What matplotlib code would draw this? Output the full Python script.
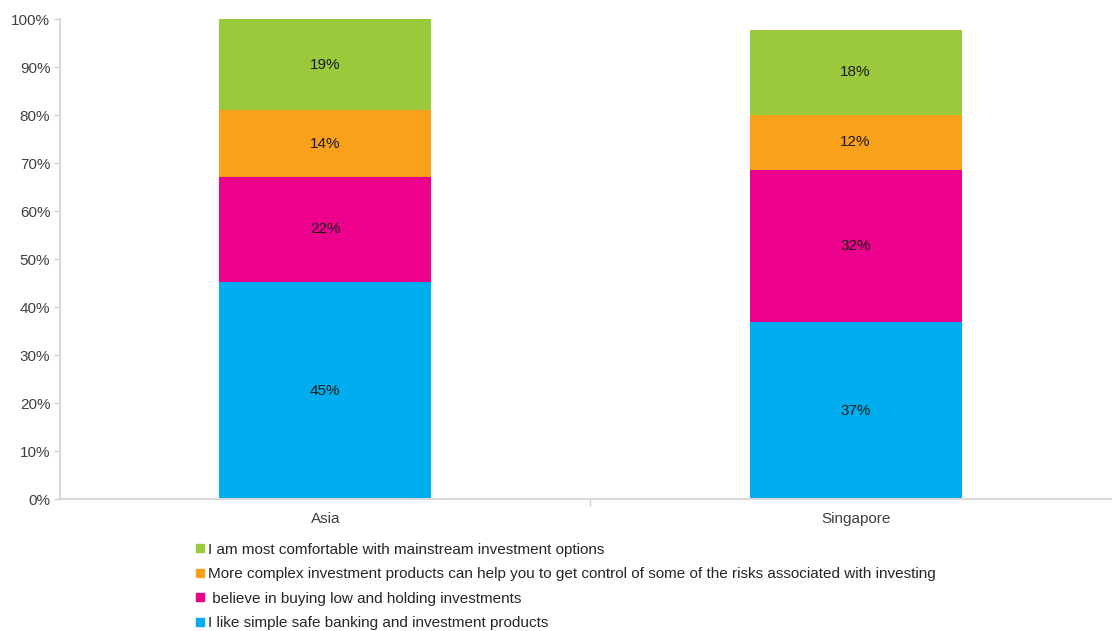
import matplotlib
matplotlib.use('Agg')
import matplotlib.pyplot as plt
from matplotlib.lines import Line2D
import numpy as np

plt.rcParams['font.family'] = ['Liberation Sans', 'DejaVu Sans']

# Survey shares (%) per region, stacked bottom to top
regions = ['Asia', 'Singapore']
simple_safe = [45.4, 37.0]
buy_and_hold = [21.7, 31.6]
complex_products = [14.0, 11.6]
mainstream = [18.9, 17.7]

series_labels = [
    'I like simple safe banking and investment products',
    ' believe in buying low and holding investments',
    'More complex investment products can help you to get control of some of the risks associated with investing',
    'I am most comfortable with mainstream investment options',
]
series_colors = ['#00AEEF', '#EC008C', '#F9A11B', '#9ACA3C']
y_ticks = [0, 10, 20, 30, 40, 50, 60, 70, 80, 90, 100]

fig = plt.figure(figsize=(11.12, 6.31), dpi=100)
ax = fig.add_axes([0.054, 0.2084, 0.946, 0.7607])

x = np.arange(len(regions))
bottom = np.zeros(len(regions))
for vals, color in zip([simple_safe, buy_and_hold, complex_products, mainstream], series_colors):
    vals = np.array(vals)
    ax.bar(x, vals, width=0.4, bottom=bottom, color=color, linewidth=0, zorder=2)
    for xi, b, v in zip(x, bottom, vals):
        ax.text(xi, b + v / 2, f'{v:.0f}%', ha='center', va='center',
                fontsize=11, color='#1a1a1a', zorder=3)
    bottom += vals

ax.set_ylim(0, 100)
ax.set_xlim(-0.5, 1.4835)
ax.set_yticks(y_ticks)
ax.set_yticklabels([f'{t}%' for t in y_ticks], fontsize=11, color='#404040')

# category labels without ticks, separator tick between categories
ax.set_xticks([0.5])
ax.set_xticklabels([''])
ax.tick_params(axis='x', length=5, color='#d0d0d0', width=1)
ax.tick_params(axis='y', length=4, color='#d0d0d0', width=1, pad=3)
for xi, name in zip(x, regions):
    ax.text(xi, -2.6, name, ha='center', va='top', fontsize=11, color='#404040',
            transform=ax.transData)

for side in ['top', 'right']:
    ax.spines[side].set_visible(False)
for side in ['left', 'bottom']:
    ax.spines[side].set_color('#d9d9d9')
    ax.spines[side].set_linewidth(1.5)

handles = [Line2D([], [], marker='s', linestyle='none', markersize=5.5,
                  markerfacecolor=c, markeredgecolor=c)
           for c in series_colors[::-1]]
fig.legend(handles, series_labels[::-1], loc='upper left',
           bbox_to_anchor=(0.17, 0.152), frameon=False, fontsize=11,
           handlelength=0.5, handletextpad=0.25, labelspacing=0.68,
           borderpad=0, labelcolor='#262626')

fig.savefig('out.png', dpi=100)
